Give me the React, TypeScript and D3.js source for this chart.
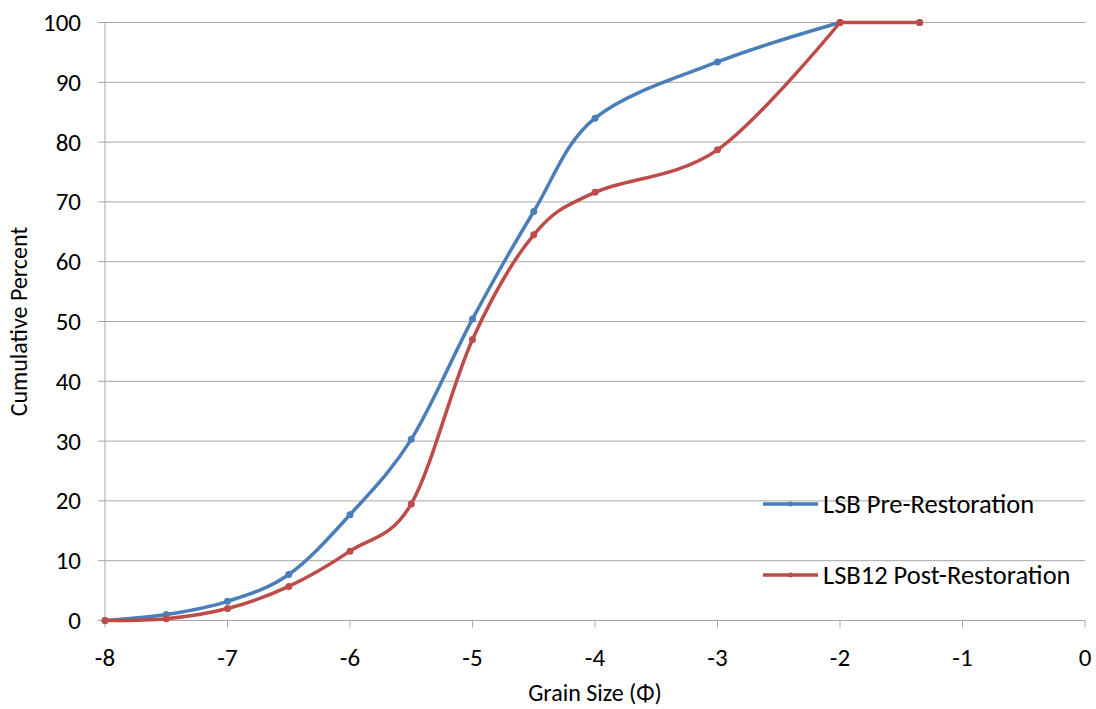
import React from "react";
import * as d3 from "d3";

const xTicks = [-8, -7, -6, -5, -4, -3, -2, -1, 0];
const yTicks = [0, 10, 20, 30, 40, 50, 60, 70, 80, 90, 100];

const preX = [-8, -7.5, -7, -6.5, -6, -5.5, -5, -4.5, -4, -3, -2, -1.35];
const preY = [0, 1, 3.2, 7.7, 17.7, 30.3, 50.4, 68.4, 84, 93.4, 100, 100];
const postX = [-8, -7.5, -7, -6.5, -6, -5.5, -5, -4.5, -4, -3, -2, -1.35];
const postY = [0, 0.3, 2, 5.7, 11.6, 19.5, 47, 64.5, 71.6, 78.7, 100, 100];

const seriesNames = ["LSB Pre-Restoration", "LSB12 Post-Restoration"];
const colors = ["#4A7EBB", "#BE4B48"];

export default function App() {
  const W = 1096, H = 709;
  const x = d3.scaleLinear().domain([-8, 0]).range([105, 1085]);
  const y = d3.scaleLinear().domain([0, 100]).range([620.5, 22.5]);
  const smooth = d3
    .line<[number, number]>()
    .x((d) => x(d[0]))
    .y((d) => y(d[1]))
    .curve(d3.curveCatmullRom.alpha(0));
  const straight = d3
    .line<[number, number]>()
    .x((d) => x(d[0]))
    .y((d) => y(d[1]));
  const series = [
    preX.map((v, i) => [v, preY[i]] as [number, number]),
    postX.map((v, i) => [v, postY[i]] as [number, number]),
  ];
  const font = "Carlito, Calibri, 'Open Sans', sans-serif";
  return (
    <svg width={W} height={H} style={{ position: "absolute", left: 0, top: 0, background: "#fff" }}>
      {yTicks.map((t) => (
        <g key={t}>
          {t > 0 && <line x1={105} x2={1085} y1={y(t)} y2={y(t)} stroke="#A6A6A6" strokeWidth={1} />}
          <line x1={98} x2={105} y1={y(t)} y2={y(t)} stroke="#A6A6A6" strokeWidth={1} />
          <text x={81} y={y(t) + 8.5} textAnchor="end" fontFamily={font} fontSize={25} fill="#000">
            {t}
          </text>
        </g>
      ))}
      <line x1={105} x2={105} y1={y(100)} y2={y(0)} stroke="#A6A6A6" strokeWidth={1} />
      <line x1={105} x2={1085} y1={y(0)} y2={y(0)} stroke="#A6A6A6" strokeWidth={1} />
      {xTicks.map((t) => (
        <g key={t}>
          <line x1={x(t)} x2={x(t)} y1={y(0)} y2={y(0) + 7} stroke="#A6A6A6" strokeWidth={1} />
          <text x={x(t)} y={666} textAnchor="middle" fontFamily={font} fontSize={25} fill="#000">
            {t}
          </text>
        </g>
      ))}
      <text x={595} y={701} textAnchor="middle" fontFamily={font} fontSize={24} fill="#000">
        Grain Size (Φ)
      </text>
      <text
        transform={`translate(27,${y(50)}) rotate(-90)`}
        textAnchor="middle"
        fontFamily={font}
        fontSize={24}
        fill="#000"
      >
        Cumulative Percent
      </text>
      {series.map((s, i) => (
        <g key={i}>
          <path d={smooth(s.slice(0, 11)) || ""} fill="none" stroke={colors[i]} strokeWidth={3.5} strokeLinecap="round" />
          <path d={straight(s.slice(10)) || ""} fill="none" stroke={colors[i]} strokeWidth={i === 0 ? 2 : 3.5} strokeLinecap="round" />
          {s.map((p, j) => (
            <circle key={j} cx={x(p[0])} cy={y(p[1])} r={3.5} fill={colors[i]} />
          ))}
        </g>
      ))}
      {seriesNames.map((n, i) => {
        const ly = 504 + i * 71;
        return (
          <g key={n}>
            <line x1={763} x2={818} y1={ly} y2={ly} stroke={colors[i]} strokeWidth={3.5} />
            <circle cx={790.5} cy={ly} r={2.5} fill={colors[i]} />
            <text x={823} y={ly + 9} fontFamily={font} fontSize={26.5} fill="#000">
              {n}
            </text>
          </g>
        );
      })}
    </svg>
  );
}
